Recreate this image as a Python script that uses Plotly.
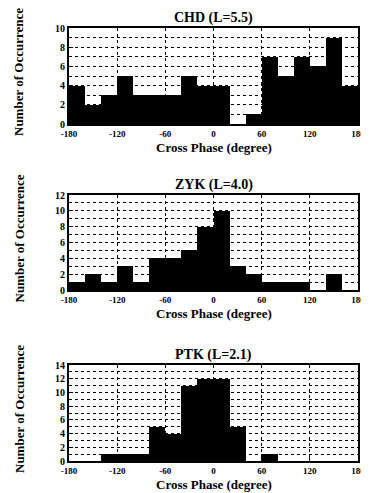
import plotly.graph_objects as go
from plotly.subplots import make_subplots

# Bin centres of cross phase (degree), 20-degree bins
phase_bins = [-170, -150, -130, -110, -90, -70, -50, -30, -10,
              10, 30, 50, 70, 90, 110, 130, 150, 170]

chd_counts = [4, 2, 3, 5, 3, 3, 3, 5, 4, 4, 0, 1, 7, 5, 7, 6, 9, 4]
zyk_counts = [1, 2, 1, 3, 1, 4, 4, 5, 8, 10, 3, 2, 1, 1, 1, 0, 2, 0]
ptk_counts = [0, 0, 1, 1, 1, 5, 4, 11, 12, 12, 5, 0, 1, 0, 0, 0, 0, 0]

titles = ["CHD (L=5.5)", "ZYK (L=4.0)", "PTK (L=2.1)"]
y_max = [10, 12, 14]
x_ticks = [-180, -120, -60, 0, 60, 120, 180]
x_ticklabels = ["-180", "-120", "-60", "0", "60", "120", "180"]
x_title = "Cross Phase (degree)"
y_title = "Number of Occurrence"

# the page body has an 8px margin, so the figure sits at (8, 8)
OFF = 8
W, H = 369 - OFF, 493 - OFF
FONT = "Liberation Serif"

fig = make_subplots(rows=3, cols=1)

series = [chd_counts, zyk_counts, ptk_counts]
for i, counts in enumerate(series):
    fig.add_trace(go.Bar(x=phase_bins, y=counts, width=20,
                         marker=dict(color="black", line=dict(width=0)),
                         showlegend=False), row=i + 1, col=1)

# page-pixel layout (top, bottom) of each frame
frames = [(28, 124), (195, 290), (365, 461)]
x0, x1 = 69, 358

def px(p):
    return (p - OFF) / W

def py(p):
    return 1 - (p - OFF) / H

for i, (top, bot) in enumerate(frames):
    xa = "xaxis" if i == 0 else f"xaxis{i+1}"
    ya = "yaxis" if i == 0 else f"yaxis{i+1}"
    fig.layout[xa].update(
        domain=[px(x0), px(x1)], range=[-180, 180], automargin=False,
        tickmode="array", tickvals=x_ticks, ticktext=x_ticklabels,
        ticklabeloverflow="allow",
        showgrid=True, gridcolor="black", griddash="dot", gridwidth=1,
        showline=True, linecolor="black", linewidth=2, mirror=True,
        ticks="inside", ticklen=3, tickcolor="black",
        tickfont=dict(family=FONT, size=9, color="black", weight="bold"),
        zeroline=False, fixedrange=True,
    )
    fig.layout[ya].update(
        domain=[py(bot), py(top)], range=[0, y_max[i]], automargin=False,
        dtick=2, tick0=0,
        showgrid=True, gridcolor="black", griddash="dot", gridwidth=1,
        minor=dict(dtick=1, showgrid=True, gridcolor="black", griddash="dot",
                   ticks="inside", ticklen=3, tickcolor="black"),
        showline=True, linecolor="black", linewidth=2, mirror=True,
        ticks="inside", ticklen=4, tickcolor="black",
        tickfont=dict(family=FONT, size=10, color="black", weight="bold"),
        zeroline=False, fixedrange=True,
    )
    # panel title
    fig.add_annotation(text=titles[i], xref="paper", yref="paper",
                       x=px((x0 + x1) / 2), y=py(top - 10), showarrow=False,
                       xanchor="center", yanchor="middle",
                       font=dict(family=FONT, size=14, color="black", weight="bold"))
    # x-axis title
    fig.add_annotation(text=x_title, xref="paper", yref="paper",
                       x=px((x0 + x1) / 2), y=py(bot + 23), showarrow=False,
                       xanchor="center", yanchor="middle",
                       font=dict(family=FONT, size=13, color="black", weight="bold"))
    # y-axis title
    fig.add_annotation(text=y_title, xref="paper", yref="paper",
                       x=px(19), y=py((top + bot) / 2 - 4), showarrow=False,
                       textangle=-90, xanchor="center", yanchor="middle",
                       font=dict(family=FONT, size=13, color="black", weight="bold"))

fig.update_layout(width=W, height=H, margin=dict(l=0, r=0, t=0, b=0),
                  paper_bgcolor="white", plot_bgcolor="white", bargap=0)

fig.write_html("out.html")
